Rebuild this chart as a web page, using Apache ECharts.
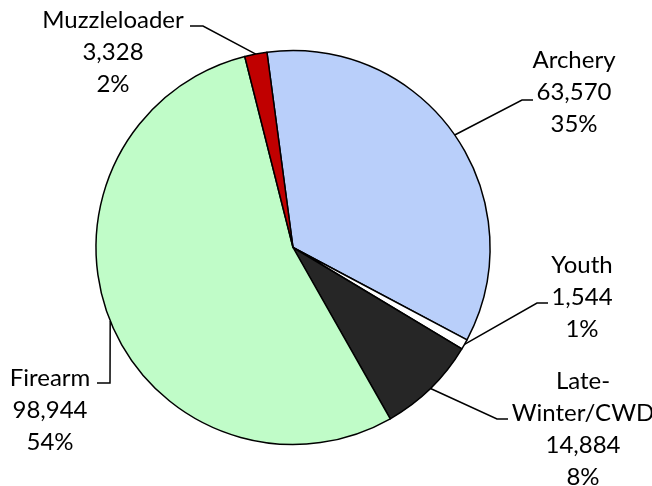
<!DOCTYPE html>
<html>
<head>
<meta charset="utf-8">
<script src="https://cdn.jsdelivr.net/npm/echarts@6/dist/echarts.min.js"></script>
<style>
    html, body { margin: 0; padding: 0; background: #fff; }
    #chart { width: 652px; height: 486px; }
</style>
</head>
<body>
<div id="chart"></div>
<script>
// Deer licenses by season
var categories = ['Archery', 'Youth', 'Late-Winter/CWD', 'Firearm', 'Muzzleloader'];
var licenses = [63570, 1544, 14884, 98944, 3328];
var sliceColors = ['#b9cffa', '#ffffff', '#262626', '#c0fcc8', '#c00000'];

// Where each label sits, and where its leader line bends and stops (pixels)
var labelSpots = [
    { x: 574, y: 92, bend: [522, 100], end: [533, 100] },
    { x: 582, y: 297, bend: [537, 303], end: [548, 303] },
    { x: 583, y: 429, bend: [497, 419], end: [508, 419] },
    { x: 50, y: 410, bend: [110, 383], end: [97, 383] },
    { x: 113, y: 52, bend: [203, 26], end: [190, 26] }
];

var chart = echarts.init(document.getElementById('chart'), null, { renderer: 'canvas' });

var pieData = categories.map(function (name, i) {
    return { name: name, value: licenses[i], itemStyle: { color: sliceColors[i] } };
});

var options = {
    animation: false,
    series: [
        {
            type: 'pie',
            center: [293, 247.5],
            radius: 197,
            startAngle: 97.6,
            clockwise: true,
            avoidLabelOverlap: false,
            data: pieData,
            itemStyle: {
                borderColor: '#000',
                borderWidth: 1.5
            },
            label: {
                show: true,
                position: 'outside',
                color: '#000',
                fontFamily: 'Lato',
                fontSize: 24,
                lineHeight: 32,
                formatter: function (p) {
                    var name = p.name.replace('-', '-\n');
                    return name + '\n' + p.value.toLocaleString('en-US') + '\n' + Math.round(p.percent) + '%';
                }
            },
            labelLine: {
                show: true,
                lineStyle: { color: '#000', width: 1.5 }
            },
            emphasis: { disabled: true }
        }
    ]
};

options.series[0].labelLayout = function (params) {
    var spot = labelSpots[params.dataIndex];
    var start = params.labelLinePoints ? params.labelLinePoints[0] : spot.bend;
    return {
        x: spot.x,
        y: spot.y,
        align: 'center',
        verticalAlign: 'middle',
        labelLinePoints: [start, spot.bend, spot.end]
    };
};

chart.setOption(options);
</script>
</body>
</html>
